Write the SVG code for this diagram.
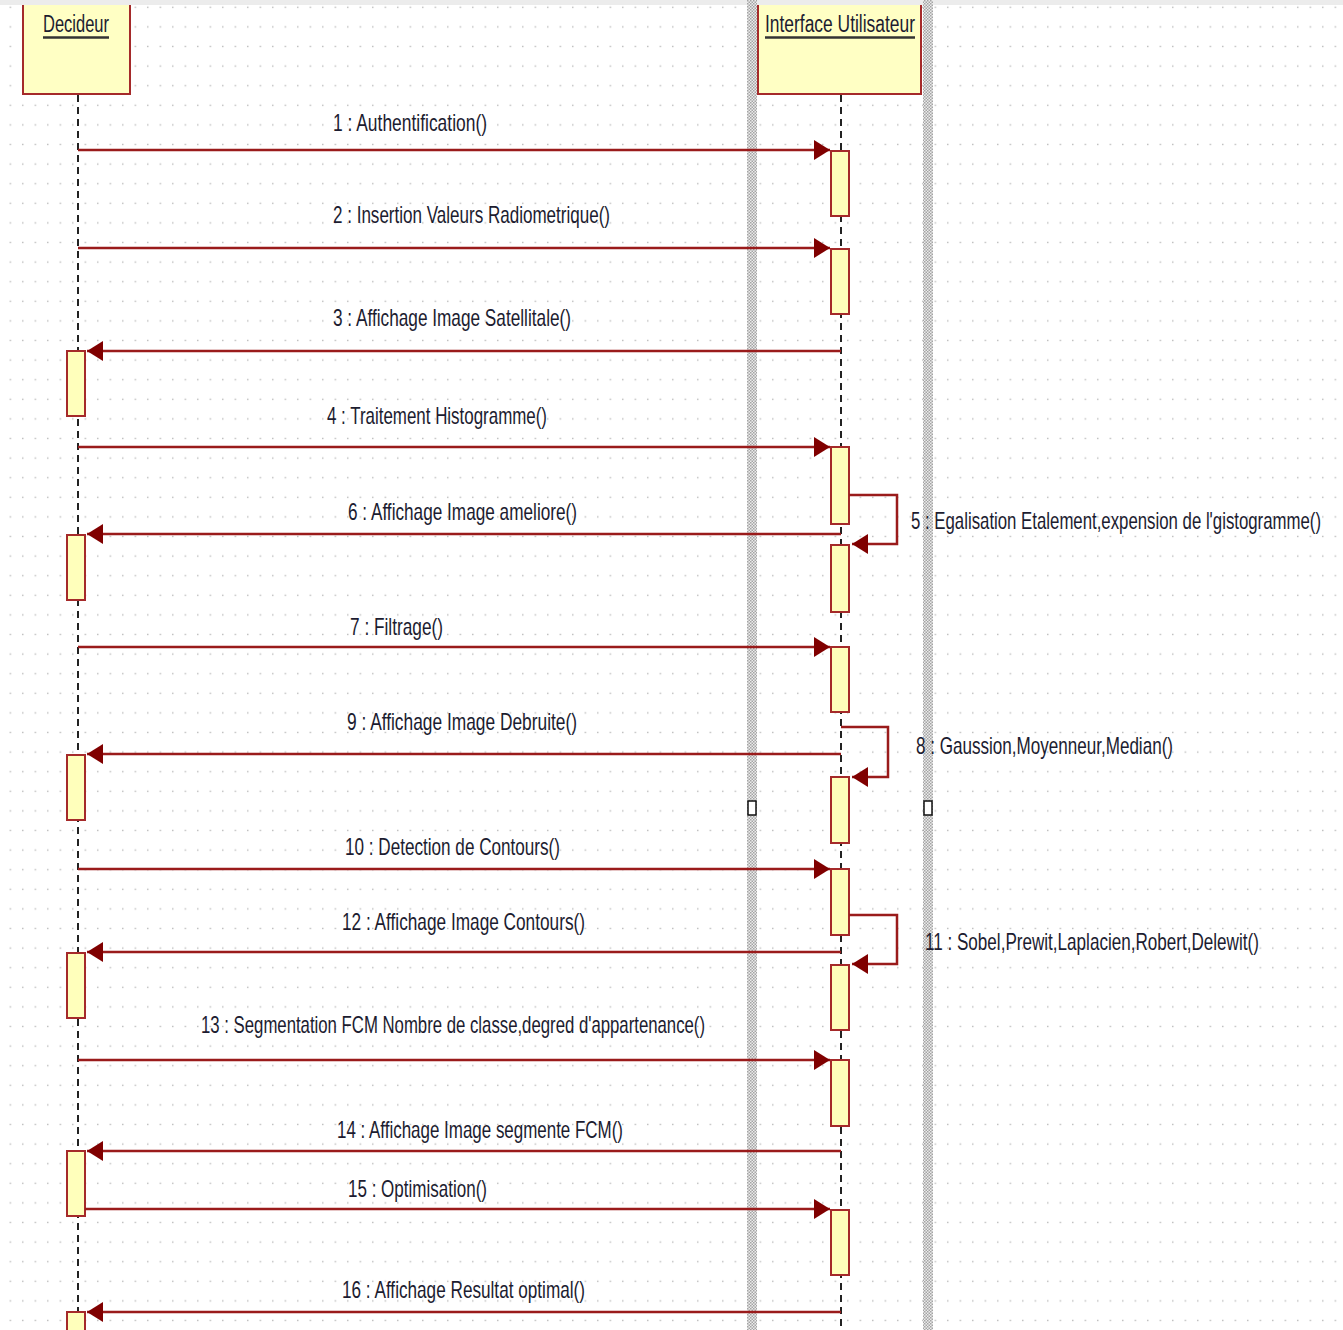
<svg xmlns="http://www.w3.org/2000/svg" width="1343" height="1330" viewBox="0 0 1343 1330">
<style>
.lbl{font-family:"Liberation Sans",Arial,sans-serif;font-size:24px;fill:#1c1c30;}
.hdr{font-family:"Liberation Sans",Arial,sans-serif;font-size:23px;fill:#1c1c30;}
.obj{fill:#ffffc4;stroke:#a52a2a;stroke-width:2;}
.act{fill:#ffffbb;stroke:#a52a2a;stroke-width:2;}
.life{stroke:#222;stroke-width:2;stroke-dasharray:7 5;fill:none;}
.msg{stroke:#9a1b1b;stroke-width:2.5;fill:none;}
.ul{stroke:#333;stroke-width:2.5;}
</style>
<defs>
<pattern id="grid" patternUnits="userSpaceOnUse" x="0" y="0" width="12.5" height="19.6">
<rect x="9.6" y="6.6" width="1.4" height="1.4" fill="#b8b8b8"/>
</pattern>
<pattern id="hatch" patternUnits="userSpaceOnUse" width="3" height="3">
<rect width="3" height="3" fill="#ececec"/>
<rect width="1.5" height="1.5" fill="#a4a4a4"/>
<rect x="1.5" y="1.5" width="1.5" height="1.5" fill="#a4a4a4"/>
</pattern>
<marker id="arr" viewBox="0 0 16 20" refX="16" refY="10" markerWidth="16" markerHeight="20" markerUnits="userSpaceOnUse" orient="auto">
<path d="M0,0 L16,10 L0,20 z" fill="#800000"/>
</marker>
</defs>
<rect width="1343" height="1330" fill="#ffffff"/>
<rect width="1343" height="1330" fill="url(#grid)"/>
<rect x="0" y="0" width="1343" height="5" fill="#ececec"/>
<rect x="747" y="0" width="10" height="1330" fill="url(#hatch)"/>
<rect x="923" y="0" width="10" height="1330" fill="url(#hatch)"/>
<rect x="748" y="801" width="8" height="14" fill="#ffffff" stroke="#111" stroke-width="1.5"/>
<rect x="924" y="801" width="8" height="14" fill="#ffffff" stroke="#111" stroke-width="1.5"/>

<g id="decideur">
<rect class="obj" x="23" y="2" width="107" height="92"/>
<rect x="0" y="0" width="747" height="5" fill="#ececec"/>
<text class="hdr" x="43" y="32" textLength="66" lengthAdjust="spacingAndGlyphs">Decideur</text>
<line class="ul" x1="43" y1="37.5" x2="109" y2="37.5"/>
<line class="life" x1="78" y1="95" x2="78" y2="1330"/>
</g>
<g id="interface">
<rect class="obj" x="758" y="2" width="163" height="92"/>
<rect x="757" y="0" width="166" height="5" fill="#ececec"/>
<text class="hdr" x="765" y="32" textLength="150" lengthAdjust="spacingAndGlyphs">Interface Utilisateur</text>
<line class="ul" x1="765" y1="37.5" x2="915" y2="37.5"/>
<line class="life" x1="841" y1="95" x2="841" y2="1330"/>
</g>

<g id="activations">
<rect class="act" x="831" y="151" width="18" height="65"/>
<rect class="act" x="831" y="249" width="18" height="65"/>
<rect class="act" x="831" y="447" width="18" height="77"/>
<rect class="act" x="831" y="545" width="18" height="67"/>
<rect class="act" x="831" y="647" width="18" height="65"/>
<rect class="act" x="831" y="777" width="18" height="66"/>
<rect class="act" x="831" y="869" width="18" height="66"/>
<rect class="act" x="831" y="965" width="18" height="65"/>
<rect class="act" x="831" y="1060" width="18" height="66"/>
<rect class="act" x="831" y="1210" width="18" height="65"/>
<rect class="act" x="67" y="351" width="18" height="65"/>
<rect class="act" x="67" y="535" width="18" height="65"/>
<rect class="act" x="67" y="755" width="18" height="65"/>
<rect class="act" x="67" y="953" width="18" height="65"/>
<rect class="act" x="67" y="1151" width="18" height="65"/>
<rect class="act" x="67" y="1312" width="18" height="30"/>
</g>

<g id="connectors">
<line class="msg" x1="78" y1="150" x2="830" y2="150" marker-end="url(#arr)"/>
<line class="msg" x1="78" y1="248" x2="830" y2="248" marker-end="url(#arr)"/>
<line class="msg" x1="841" y1="351" x2="87" y2="351" marker-end="url(#arr)"/>
<line class="msg" x1="78" y1="447" x2="830" y2="447" marker-end="url(#arr)"/>
<polyline class="msg" points="849,495 897,495 897,544 852,544" marker-end="url(#arr)"/>
<line class="msg" x1="841" y1="534" x2="87" y2="534" marker-end="url(#arr)"/>
<line class="msg" x1="78" y1="647" x2="830" y2="647" marker-end="url(#arr)"/>
<polyline class="msg" points="841,727 888,727 888,777 852,777" marker-end="url(#arr)"/>
<line class="msg" x1="841" y1="754" x2="87" y2="754" marker-end="url(#arr)"/>
<line class="msg" x1="78" y1="869" x2="830" y2="869" marker-end="url(#arr)"/>
<polyline class="msg" points="849,915 897,915 897,964 852,964" marker-end="url(#arr)"/>
<line class="msg" x1="841" y1="952" x2="87" y2="952" marker-end="url(#arr)"/>
<line class="msg" x1="78" y1="1060" x2="830" y2="1060" marker-end="url(#arr)"/>
<line class="msg" x1="841" y1="1151" x2="87" y2="1151" marker-end="url(#arr)"/>
<line class="msg" x1="85" y1="1209" x2="830" y2="1209" marker-end="url(#arr)"/>
<line class="msg" x1="841" y1="1312" x2="87" y2="1312" marker-end="url(#arr)"/>
</g>

<g id="labels">
<text class="lbl" x="333" y="131" textLength="154" lengthAdjust="spacingAndGlyphs">1 : Authentification()</text>
<text class="lbl" x="333" y="223" textLength="277" lengthAdjust="spacingAndGlyphs">2 : Insertion Valeurs Radiometrique()</text>
<text class="lbl" x="333" y="326" textLength="238" lengthAdjust="spacingAndGlyphs">3 : Affichage Image Satellitale()</text>
<text class="lbl" x="327" y="424" textLength="220" lengthAdjust="spacingAndGlyphs">4 : Traitement Histogramme()</text>
<text class="lbl" transform="translate(911,529) scale(0.68,1)" x="0" y="0" textLength="603" lengthAdjust="spacingAndGlyphs">5 : Egalisation Etalement,expension de l'gistogramme()</text>
<text class="lbl" x="348" y="520" textLength="229" lengthAdjust="spacingAndGlyphs">6 : Affichage Image ameliore()</text>
<text class="lbl" x="350" y="635" textLength="93" lengthAdjust="spacingAndGlyphs">7 : Filtrage()</text>
<text class="lbl" x="916" y="754" textLength="257" lengthAdjust="spacingAndGlyphs">8 : Gaussion,Moyenneur,Median()</text>
<text class="lbl" x="347" y="730" textLength="230" lengthAdjust="spacingAndGlyphs">9 : Affichage Image Debruite()</text>
<text class="lbl" x="345" y="855" textLength="215" lengthAdjust="spacingAndGlyphs">10 : Detection de Contours()</text>
<text class="lbl" transform="translate(925,950) scale(0.68,1)" x="0" y="0" textLength="491" lengthAdjust="spacingAndGlyphs">11 : Sobel,Prewit,Laplacien,Robert,Delewit()</text>
<text class="lbl" x="342" y="930" textLength="243" lengthAdjust="spacingAndGlyphs">12 : Affichage Image Contours()</text>
<text class="lbl" x="201" y="1033" textLength="504" lengthAdjust="spacingAndGlyphs">13 : Segmentation FCM Nombre de classe,degred d'appartenance()</text>
<text class="lbl" x="337" y="1138" textLength="286" lengthAdjust="spacingAndGlyphs">14 : Affichage Image segmente FCM()</text>
<text class="lbl" x="348" y="1197" textLength="139" lengthAdjust="spacingAndGlyphs">15 : Optimisation()</text>
<text class="lbl" x="342" y="1298" textLength="243" lengthAdjust="spacingAndGlyphs">16 : Affichage Resultat optimal()</text>
</g>
</svg>
